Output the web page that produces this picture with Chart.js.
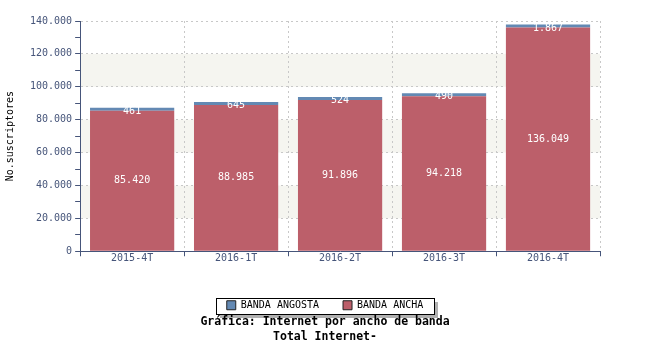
<!DOCTYPE html>
<html lang="es">
<head>
<meta charset="UTF-8">
<title>Internet por ancho de banda</title>
<script src="https://cdn.jsdelivr.net/npm/chart.js"></script>
<style>
  html, body { margin: 0; padding: 0; background: #fff; }
  #wrap { width: 650px; height: 350px; }
</style>
</head>
<body>
<div id="wrap"><canvas id="chart" width="650" height="350"></canvas></div>
<script>
const periodos = ['2015-4T', '2016-1T', '2016-2T', '2016-3T', '2016-4T'];
const bandaAncha = [85420, 88985, 91896, 94218, 136049];
const bandaAngosta = [461, 645, 524, 490, 1867];
const bandasClaras = [[20000, 40000], [60000, 80000], [100000, 120000]];

const mono = '"DejaVu Sans Mono", monospace';
const ejeColor = '#46557a';

function miles(v) {
    return String(v).replace(/\B(?=(\d{3})+(?!\d))/g, '.');
}

// franjas grises del fondo + recuadro con sombra de la leyenda
const fondo = {
    id: 'fondo',
    beforeDraw(chart) {
        const { ctx, chartArea, scales } = chart;
        ctx.save();
        ctx.fillStyle = '#f5f5f0';
        bandasClaras.forEach(([a, b]) => {
            const y1 = scales.y.getPixelForValue(b);
            const y2 = scales.y.getPixelForValue(a);
            ctx.fillRect(chartArea.left, y1, chartArea.right - chartArea.left, y2 - y1);
        });

        const boxes = chart.legend.legendHitBoxes;
        if (boxes && boxes.length) {
            const left = Math.round(Math.min(...boxes.map(b => b.left)) - 11);
            const right = Math.round(Math.max(...boxes.map(b => b.left + b.width)) + 11);
            const top = Math.round(Math.min(...boxes.map(b => b.top)) - 2.5);
            const bottom = Math.round(Math.max(...boxes.map(b => b.top + b.height)) + 4);
            ctx.fillStyle = '#b0b0b0';
            ctx.fillRect(right + 1, top + 4, 3, bottom - top);
            ctx.fillRect(left + 4, bottom + 1, right - left, 3);
            ctx.strokeStyle = '#000';
            ctx.lineWidth = 1;
            ctx.strokeRect(left + 0.5, top + 0.5, right - left, bottom - top);
        }
        ctx.restore();
    }
};

// etiquetas blancas sobre las barras
const etiquetas = {
    id: 'etiquetas',
    afterDatasetsDraw(chart) {
        const { ctx } = chart;
        ctx.save();
        ctx.font = '10px ' + mono;
        ctx.fillStyle = '#ffffff';
        ctx.textAlign = 'center';
        ctx.textBaseline = 'middle';
        chart.data.datasets.forEach((ds, i) => {
            chart.getDatasetMeta(i).data.forEach((bar, j) => {
                const yc = (bar.y + bar.base) / 2;
                const dy = i === 1 ? 2 : 0;
                ctx.fillText(miles(ds.data[j]), bar.x, yc + dy);
            });
        });
        ctx.restore();
    }
};

new Chart(document.getElementById('chart'), {
    type: 'bar',
    data: {
        labels: periodos,
        datasets: [{
            label: 'BANDA ANCHA',
            data: bandaAncha,
            backgroundColor: '#bc5f6a',
            barPercentage: 0.81,
            categoryPercentage: 1
        }, {
            label: 'BANDA ANGOSTA',
            data: bandaAngosta,
            backgroundColor: '#6389b3',
            minBarLength: 3,
            barPercentage: 0.81,
            categoryPercentage: 1
        }]
    },
    options: {
        responsive: false,
        animation: false,
        layout: { padding: { top: 21, right: 0, left: 0, bottom: 0 } },
        scales: {
            x: {
                stacked: true,
                afterFit: (s) => { s.height = 25; },
                grid: { color: '#c8c8c8', tickColor: ejeColor, tickLength: 5, tickBorderDash: [], offset: true },
                border: { color: ejeColor, width: 1, dash: [2, 3] },
                ticks: { color: ejeColor, font: { family: mono, size: 10 }, padding: -4 }
            },
            y: {
                stacked: true,
                min: 0,
                max: 140000,
                grid: {
                    color: (c) => c.tick && c.tick.value % 20000 === 0 ? '#c8c8c8' : 'rgba(0,0,0,0)',
                    tickColor: ejeColor,
                    tickLength: 5,
                    tickBorderDash: []
                },
                border: { color: ejeColor, width: 1, dash: [2, 3] },
                ticks: {
                    stepSize: 10000,
                    color: ejeColor,
                    font: { family: mono, size: 10 },
                    padding: 3,
                    callback: (v) => v % 20000 === 0 ? miles(v) : ''
                },
                title: {
                    display: true,
                    text: 'No.suscriptores',
                    color: '#000',
                    font: { family: mono, size: 10 },
                    padding: { top: 4, bottom: 11 }
                }
            },
            derecha: {
                type: 'linear',
                position: 'right',
                display: true,
                afterFit: (s) => { s.width = 50; },
                grid: { display: false },
                border: { display: false },
                ticks: { display: false }
            }
        },
        plugins: {
            legend: {
                position: 'bottom',
                reverse: true,
                labels: {
                    color: '#000',
                    font: { family: mono, size: 10 },
                    boxWidth: 9,
                    boxHeight: 9,
                    padding: 24,
                    generateLabels: (chart) => {
                        const items = Chart.defaults.plugins.legend.labels.generateLabels(chart);
                        items.forEach(it => { it.lineWidth = 1; it.strokeStyle = '#222'; });
                        return items;
                    }
                }
            },
            title: {
                display: true,
                position: 'bottom',
                text: ['Gráfica: Internet por ancho de banda', 'Total Internet-'],
                color: '#000',
                font: { family: mono, size: 11.5, weight: 'bold', lineHeight: 1.25 },
                padding: { top: -5, bottom: 6 }
            },
            tooltip: { enabled: false }
        }
    },
    plugins: [fondo, etiquetas]
});
</script>
</body>
</html>
